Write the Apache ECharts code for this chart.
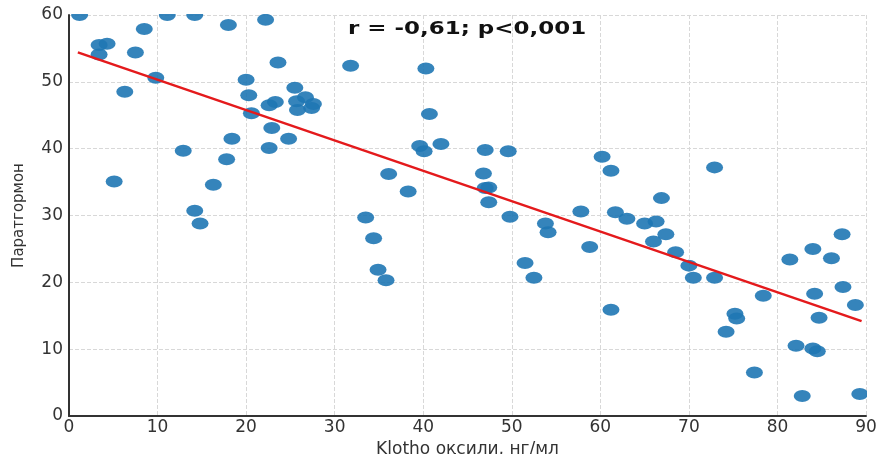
<!DOCTYPE html>
<html><head><meta charset="utf-8">
<script src="https://cdn.jsdelivr.net/npm/echarts@6/dist/echarts.min.js"></script>
<style>html,body{margin:0;padding:0;background:#fff}#c{width:877px;height:454px}</style>
</head><body><div id="c"></div>
<script>
const klotho = [1.2,11.1,14.2,8.5,18.0,22.2,4.3,3.4,3.4,7.5,9.8,6.3,23.6,20.0,20.3,20.6,25.5,23.3,22.6,26.7,25.7,27.6,27.4,25.8,22.9,18.4,24.8,22.6,12.9,17.8,5.1,16.3,14.2,14.8,31.8,40.3,40.7,39.6,40.1,42.0,47.0,49.6,36.1,38.3,46.8,47.4,47.0,47.4,33.5,49.8,57.8,53.8,54.1,34.4,34.9,35.8,51.5,52.5,58.8,60.2,61.2,72.9,66.9,61.7,63.0,65.0,66.3,66.0,67.4,68.5,70.0,70.5,72.9,61.2,78.4,75.2,75.4,74.2,77.4,81.4,84.0,86.1,87.3,84.2,87.4,88.8,84.7,82.1,84.0,84.5,82.8,89.3];
const pth = [60.0,60.0,60.0,57.9,58.5,59.3,55.7,55.5,54.1,54.4,50.6,48.5,52.9,50.3,48.0,45.3,49.1,47.0,46.5,47.7,47.1,46.7,46.1,45.8,43.1,41.5,41.5,40.1,39.7,38.4,35.1,34.6,30.7,28.8,52.4,52.0,45.2,40.4,39.6,40.7,39.8,39.6,36.2,33.6,36.3,34.2,34.1,32.0,29.7,29.8,30.6,28.8,27.5,26.6,21.9,20.3,22.9,20.7,25.3,38.8,36.7,37.2,32.6,30.5,29.5,28.8,29.1,26.1,27.2,24.5,22.5,20.7,20.7,15.9,18.0,15.3,14.6,12.6,6.5,23.4,25.0,23.6,27.2,18.3,19.3,16.6,14.7,10.5,10.1,9.7,3.0,3.3];
const fitX = [1.0, 89.5];
const fitY = [54.4, 14.2];
const xTicks = [0,10,20,30,40,50,60,70,80,90];
const yTicks = [0,10,20,30,40,50,60];
const annotation = 'r = -0,61; p<0,001';
const xName = 'Klotho оқсили, нг/мл';
const yName = 'Паратгормон';

const chart = echarts.init(document.getElementById('c'));
const points = klotho.map((x, i) => [x, pth[i]]);
const fit = fitX.map((x, i) => [x, fitY[i]]);
const font = 'DejaVu Sans';
const G = { left: 69, right: 11, top: 15, bottom: 38 };
chart.setOption({
  animation: false,
  backgroundColor: '#fff',
  grid: { left: G.left, right: G.right, top: G.top, bottom: G.bottom, outerBoundsMode: 'none', containLabel: false },
  xAxis: {
    type: 'value', min: xTicks[0], max: xTicks[xTicks.length-1], interval: 10,
    name: xName, nameLocation: 'middle', nameGap: 17,
    nameTextStyle: { fontFamily: font, fontSize: 17, color: '#333' },
    axisLine: { lineStyle: { color: '#333', width: 2 } },
    axisTick: { show: false },
    axisLabel: { fontFamily: font, fontSize: 17, color: '#333', margin: 3 },
    splitLine: { show: true, lineStyle: { color: '#d8d8d8', type: 'dashed', width: 1 } }
  },
  yAxis: {
    type: 'value', min: yTicks[0], max: yTicks[yTicks.length-1], interval: 10,
    name: yName, nameLocation: 'middle', nameGap: 42,
    nameTextStyle: { fontFamily: font, fontSize: 15, color: '#333' },
    axisLine: { show: true, lineStyle: { color: '#333', width: 2 } },
    axisTick: { show: false },
    axisLabel: { fontFamily: font, fontSize: 17, color: '#333', margin: 6 },
    splitLine: { show: true, lineStyle: { color: '#d8d8d8', type: 'dashed', width: 1 } }
  },
  graphic: [
    { type: 'rect', z: 100, silent: true, shape: { x: G.left + 1, y: 0, width: 877 - G.left, height: G.top - 1 }, style: { fill: '#fff' } },
    { type: 'rect', z: 100, silent: true, shape: { x: 877 - G.right + 1, y: 0, width: G.right, height: 454 - G.bottom - 2 }, style: { fill: '#fff' } },
    { type: 'text', z: 101, left: 348, top: 21, scaleX: 1.35,
      style: { text: annotation, font: 'bold 17px DejaVu Sans', fill: '#111' } }
  ],
  series: [{
    type: 'scatter', data: points, clip: true,
    symbol: 'circle', symbolSize: [17, 12],
    itemStyle: { color: '#1f77b4', opacity: 0.9 }
  }, {
    type: 'line', data: fit, symbol: 'none', z: 3,
    lineStyle: { color: '#e41a1c', width: 2.5 }
  }]
});
</script></body></html>
